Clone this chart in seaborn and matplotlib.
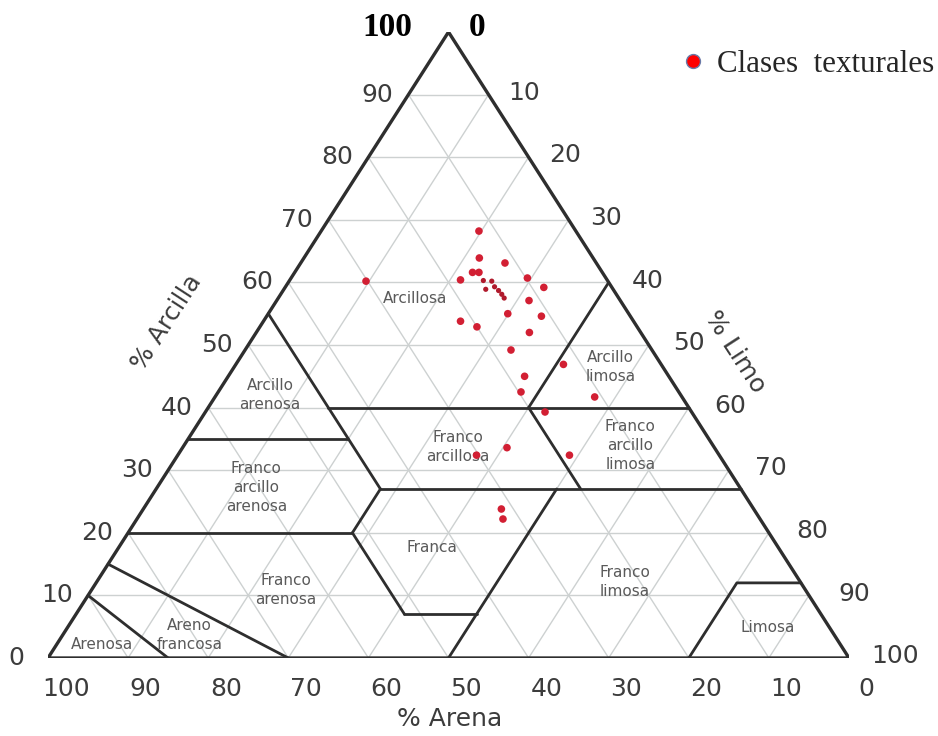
import numpy as np
import pandas as pd
import matplotlib
matplotlib.use("Agg")
import matplotlib.pyplot as plt
import seaborn as sns
from matplotlib.lines import Line2D

# Soil samples: % clay (arcilla) and % silt (limo); sand is the remainder
arcilla = [60.2, 68.2, 63.9, 63.1, 61.6, 61.6, 60.4, 60.7, 59.2, 57.1, 55.0,
           54.6, 53.8, 52.9, 52.0, 49.2, 46.9, 45.0, 42.5, 41.7, 39.3, 33.6,
           32.4, 32.4, 23.8, 22.2]
limo = [9.6, 19.7, 21.9, 25.5, 22.2, 23.0, 21.3, 29.5, 32.3, 31.5, 29.9,
        34.3, 24.6, 27.1, 34.1, 33.2, 40.9, 37.0, 37.8, 47.4, 42.4, 40.5,
        37.3, 48.9, 44.7, 45.7]
# small trail of samples inside the clay class
arcilla_traza = [60.3, 60.2, 58.9, 59.3, 58.7, 58.1, 57.5]
limo_traza = [24.2, 25.3, 25.2, 26.1, 26.9, 27.6, 28.2]

# Texture class boundaries as (clay, silt) vertices
fronteras = [
    [(55, 0), (27, 28)],
    [(40, 15), (40, 60)],
    [(40, 40), (60, 40)],
    [(40, 40), (27, 53)],
    [(35, 0), (35, 20)],
    [(27, 28), (27, 73)],
    [(27, 28), (20, 28)],
    [(20, 0), (20, 28)],
    [(20, 28), (7, 41)],
    [(7, 41), (7, 50)],
    [(27, 50), (0, 50)],
    [(0, 80), (12, 80), (12, 88)],
    [(15, 0), (0, 30)],
    [(10, 0), (0, 15)],
]

# Class names with label anchor (clay, silt)
clases = ["Arcillosa", "Arcillo\narenosa", "Arcillo\nlimosa", "Franco\narcillosa",
          "Franco\narcillo\nlimosa", "Franco\narcillo\narenosa", "Franca",
          "Franco\narenosa", "Franco\nlimosa", "Limosa", "Arenosa", "Areno\nfrancosa"]
clase_arcilla = [57.5, 42.0, 46.5, 33.7, 33.9, 27.2, 17.7, 10.9, 12.1, 4.8, 2.1, 3.7]
clase_limo = [17.05, 6.7, 46.95, 34.35, 55.75, 12.4, 39.05, 24.25, 65.95, 87.5, 5.65, 15.85]

ticks = list(range(0, 101, 10))


def to_xy(clay, silt):
    clay = np.asarray(clay, float)
    silt = np.asarray(silt, float)
    return silt + clay / 2.0, clay


sns.set_style("white")
W, H = 938, 736
fig = plt.figure(figsize=(W / 100, H / 100), dpi=100)
ax = fig.add_axes([48 / W, 78 / H, 801 / W, 626 / H])

grid_kw = dict(color="#cdd1d1", lw=1.0, zorder=1)
for v in ticks[1:-1]:
    # constant clay
    x, y = to_xy([v, v], [0, 100 - v])
    ax.plot(x, y, **grid_kw)
    # constant silt
    x, y = to_xy([0, 100 - v], [v, v])
    ax.plot(x, y, **grid_kw)
    # constant sand
    x, y = to_xy([0, 100 - v], [100 - v, 0])
    ax.plot(x, y, **grid_kw)

line_kw = dict(color="#2e2e2e", lw=2.0, zorder=3, solid_capstyle="round")
for seg in fronteras:
    c, s = zip(*seg)
    x, y = to_xy(c, s)
    ax.plot(x, y, **line_kw)

x, y = to_xy([0, 0, 100, 0], [0, 100, 0, 0])
ax.plot(x, y, color="#2e2e2e", lw=2.4, zorder=3, solid_joinstyle="miter")

# class labels
for name, c, s in zip(clases, clase_arcilla, clase_limo):
    x, y = to_xy(c, s)
    ax.text(x, y, name, ha="center", va="center", fontsize=11, color="#5a5a5a",
            linespacing=1.35, zorder=4)

tick_kw = dict(fontsize=18, color="#3c3c3c", ha="center", va="center")
# clay ticks on the left edge
for c in ticks[:-1]:
    ax.text(c / 2 - 3.9, c, str(c), **tick_kw)
# silt ticks on the right edge
for s in ticks[1:]:
    ex, ey = to_xy(100 - s, s)
    ax.text(ex + (34 + 0.12 * s) / 8.01, ey + 0.3, str(s), **tick_kw)
# sand ticks along the base
for a in ticks:
    ax.text(100 - a + 2.2, -4.9, str(a), **tick_kw)

ax.text(50.2, -9.7, "% Arena", fontsize=18, color="#3c3c3c", ha="center", va="center")
ax.text(14.8, 53.6, "% Arcilla", fontsize=18, color="#3c3c3c", ha="center",
        va="center", rotation=57, rotation_mode="anchor")
ax.text(85.8, 48.9, "% Limo", fontsize=18, color="#3c3c3c", ha="center",
        va="center", rotation=-57, rotation_mode="anchor")

top_kw = dict(fontsize=24, fontweight="bold", family="Liberation Serif",
              color="black", ha="center", va="center")
ax.text(42.4, 100.7, "100", **top_kw)
ax.text(53.6, 100.7, "0", **top_kw)

# sample points
xs, ys = to_xy(arcilla, limo)
df = pd.DataFrame({"x": xs, "y": ys})
sns.scatterplot(data=df, x="x", y="y", ax=ax, color="#d21f33", s=30,
                edgecolor="none", zorder=5, legend=False)
xt, yt = to_xy(arcilla_traza, limo_traza)
dft = pd.DataFrame({"x": xt, "y": yt})
sns.scatterplot(data=dft, x="x", y="y", ax=ax, color="#b01a2c", s=14,
                edgecolor="none", zorder=5, legend=False)
ax.set_xlim(0, 100)
ax.set_ylim(0, 100)
ax.axis("off")

handle = Line2D([], [], marker="o", ls="", markerfacecolor="#ff0000",
                markeredgecolor="#6a7aa8", markeredgewidth=1.0, markersize=10)
fig.legend(handles=[handle], labels=["Clases  texturales"], loc="center left",
           bbox_to_anchor=(684 / W, 1 - 64 / H), frameon=False,
           handlelength=0.6, handletextpad=0.45, borderpad=0, borderaxespad=0,
           prop={"family": "Liberation Serif", "size": 22.3})

fig.savefig("out.png", dpi=100)
